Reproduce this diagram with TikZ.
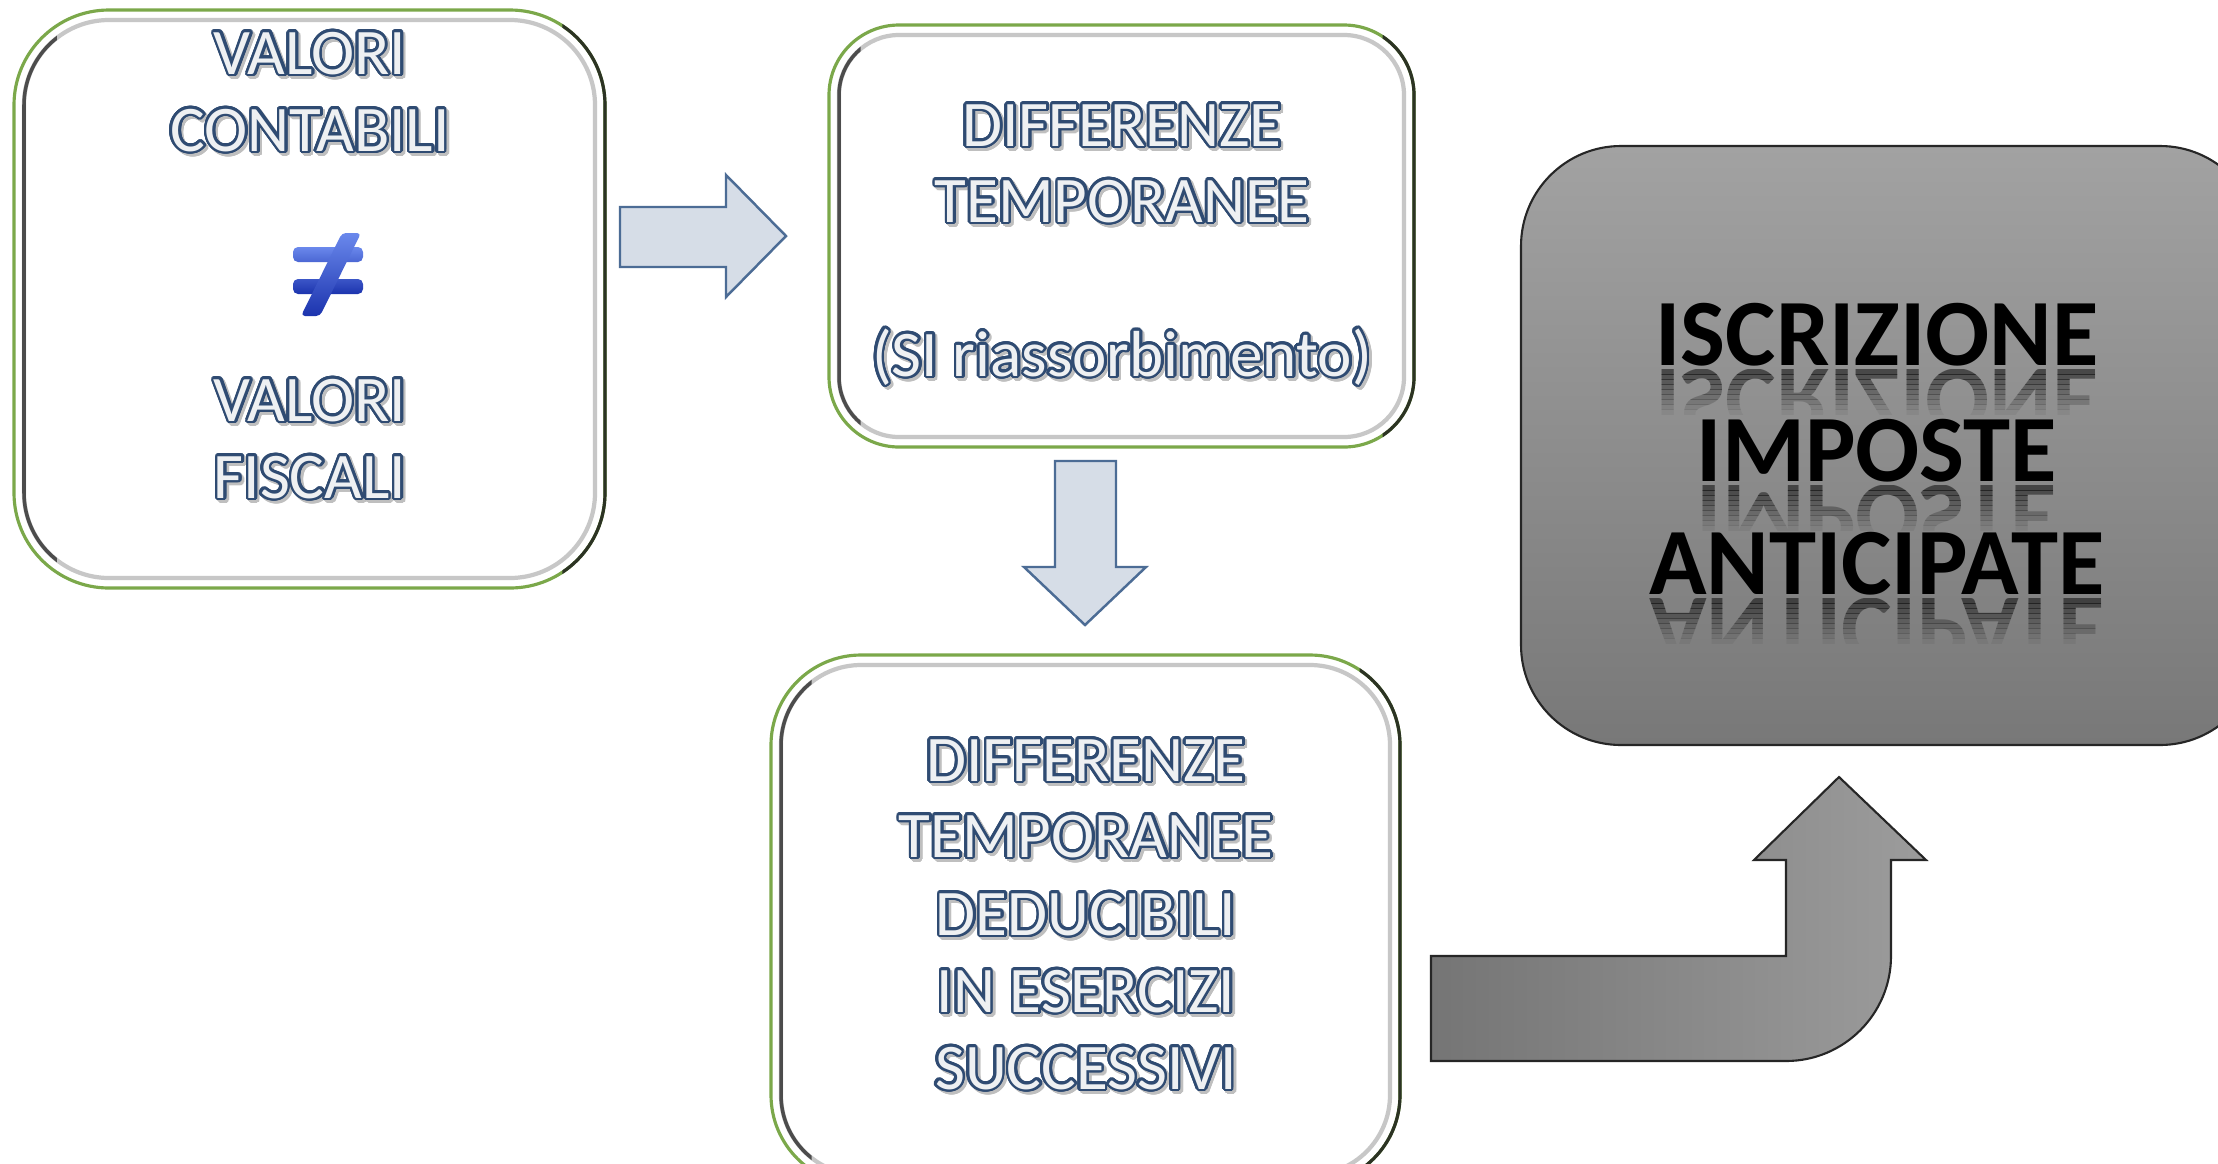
\documentclass[tikz,border=0pt]{standalone}
\usepackage{fontspec}
\setmainfont{Carlito}
\usepackage[copies]{contour}
\contourlength{0.75pt}
\contournumber{24}
\definecolor{boxgreen}{HTML}{7BA84A}
\definecolor{boxdark}{HTML}{2C3324}
\definecolor{outl}{HTML}{2F4B72}
\definecolor{txtfill}{HTML}{EEF0F2}
\definecolor{arrfill}{HTML}{D6DDE7}
\definecolor{arrline}{HTML}{4C6C95}
\definecolor{greyTop}{HTML}{A2A2A2}
\definecolor{greyBot}{HTML}{787878}
\definecolor{bentL}{HTML}{757575}
\definecolor{bentR}{HTML}{9C9C9C}
\definecolor{neqA}{HTML}{6A88EC}
\definecolor{neqB}{HTML}{1C34AE}
\tikzset{
  otext/.style={anchor=base, text=txtfill, font=\fontsize{18.5}{22}\selectfont, inner sep=0pt},
  btext/.style={anchor=base, text=black, font=\fontsize{27}{32}\selectfont\bfseries, inner sep=0pt},
  blockarrow/.style={fill=arrfill, draw=arrline, line width=0.7pt, line join=miter},
  bentarrow/.style={left color=bentL, right color=bentR, draw=black!85, line width=0.6pt},
}
\newcommand\otxt[4]{%
  \node[otext, text=black!25] (#1s) at (#2+2.5,#3+2.5) {\contour{black!25}{#4}};
  \node[otext] (#1) at (#2,#3) {\contour{outl}{#4}};
}
\newcommand\refl[4]{%
  \foreach \i in {0,...,8}{%
    \pgfmathsetmacro\op{0.5*(1-\i/9)}%
    \begin{scope}
      \clip (1530,#3+4+\i*5) rectangle (2218,#3+9.5+\i*5);
      \node[btext, text=black, text opacity=\op, yscale=-1, transform shape, name=#1-\i] at (#2,#3+4) {#4};
    \end{scope}
  }%
  \node[btext] (#1) at (#2,#3) {#4};
}
\newcommand\bevelbox[5]{%
  \pgfmathsetmacro\bxa{#1+10}%
  \pgfmathsetmacro\bya{#2+10}%
  \pgfmathsetmacro\bxb{#3-10}%
  \pgfmathsetmacro\byb{#4-10}%
  \pgfmathsetmacro\rout{#5/100}%
  \pgfmathsetmacro\rin{(#5-10)/100}%
  \pgfmathsetmacro\sR{#3-0.45*#5}%
  \pgfmathsetmacro\sL{#1+0.45*#5}%
  \fill[white, rounded corners=\rout cm] (#1,#2) rectangle (#3,#4);
  \draw[boxgreen, line width=0.9pt, rounded corners=\rout cm] (#1,#2) rectangle (#3,#4);
  \begin{scope}
    \clip (\sR,#2-20) rectangle (#3+20,#4+20);
    \draw[boxdark, line width=0.9pt, rounded corners=\rout cm] (#1,#2) rectangle (#3,#4);
  \end{scope}
  \draw[black!22, line width=1.2pt, rounded corners=\rin cm] (\bxa,\bya) rectangle (\bxb,\byb);
  \begin{scope}
    \clip (#1-20,#2-20) rectangle (\sL,#4+20);
    \draw[black!70, line width=1pt, rounded corners=\rin cm] (\bxa,\bya) rectangle (\bxb,\byb);
  \end{scope}
}
\begin{document}
\begin{tikzpicture}[x=0.01cm, y=-0.01cm]
\useasboundingbox (0,0) rectangle (2218,1163);
\fill[white] (0,0) rectangle (2218,1163);
\clip (0,0) rectangle (2218,1163);

% boxes
\bevelbox{14}{10}{605}{588}{95}
\bevelbox{829}{25}{1414}{447}{70}
\bevelbox{771}{655}{1400}{1185}{90}

% grey result box
\shade[top color=greyTop, bottom color=greyBot, draw=black!85, line width=0.6pt, rounded corners=1cm]
  (1521,146) rectangle (2260,745);

% block arrows
\draw[blockarrow] (620,207) -- (726,207) -- (726,175) -- (786,236) -- (726,297) -- (726,267) -- (620,267) -- cycle;
\draw[blockarrow] (1055,461) -- (1116,461) -- (1116,567) -- (1146,567) -- (1085,625) -- (1024,567) -- (1055,567) -- cycle;
\draw[bentarrow] (1431,956) -- (1786,956) -- (1786,860) -- (1754,860) -- (1839,777) -- (1926,860) -- (1891,860) -- (1891,956)
  .. controls (1891,1014) and (1844,1061) .. (1786,1061) -- (1431,1061) -- cycle;

% not-equal sign
\shade[top color=neqA, bottom color=neqA!60!neqB, rounded corners=0.05cm] (293,247) rectangle (363,262);
\shade[top color=neqA!40!neqB, bottom color=neqB, rounded corners=0.05cm] (293,279) rectangle (363,294);
\shade[top color=neqA, bottom color=neqB, rounded corners=0.04cm] (342,233) -- (361,233) -- (320,316) -- (301,316) -- cycle;

% box 1 text
\otxt{a1}{310}{74}{VALORI}
\otxt{a2}{310}{151}{CONTABILI}
\otxt{a3}{310}{421}{VALORI}
\otxt{a4}{310}{498}{FISCALI}

% box 2 text
\otxt{b1}{1122}{146}{DIFFERENZE}
\otxt{b2}{1122}{222}{TEMPORANEE}
\otxt{b3}{1122}{376}{(SI riassorbimento)}

% box 3 text
\otxt{c1}{1086}{781}{DIFFERENZE}
\otxt{c2}{1086}{857}{TEMPORANEE}
\otxt{c3}{1086}{935}{DEDUCIBILI}
\otxt{c4}{1086}{1012}{IN ESERCIZI}
\otxt{c5}{1086}{1089}{SUCCESSIVI}

% grey box text with reflections
\refl{d1}{1877}{365}{ISCRIZIONE}
\refl{d2}{1877}{481}{IMPOSTE}
\refl{d3}{1877}{594}{ANTICIPATE}
\end{tikzpicture}
\end{document}
